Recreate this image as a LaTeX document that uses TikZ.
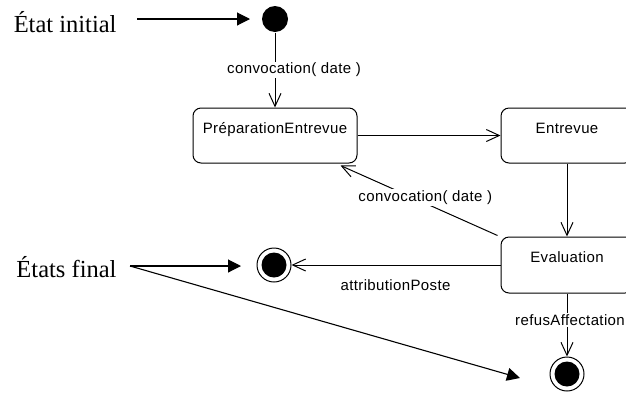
\documentclass[tikz,border=0pt]{standalone}
\usepackage{fontspec}
\setmainfont{Liberation Serif}
\newfontfamily\umlfont[LetterSpace=2.5]{Liberation Sans}
\usetikzlibrary{arrows.meta}

\begin{document}
\begin{tikzpicture}[x=1pt,y=-1pt,
  line width=1pt,
  statebox/.style={draw, rounded corners=8pt, minimum width=132pt, minimum height=55pt,
    inner xsep=0pt, inner ysep=8pt, text height=17pt, text depth=22pt,
    font=\umlfont\fontsize{15}{17}\selectfont},
  initstate/.style={circle, fill=black, minimum size=26pt, inner sep=0pt},
  finalstate/.style={circle, draw, minimum size=34pt, inner sep=0pt,
    path picture={\fill (path picture bounding box.center) circle (12.5pt);}},
  trans/.style={-{Straight Barb[length=13pt,width=12pt]}},
  lbl/.style={fill=white, inner sep=1.5pt, font=\umlfont\fontsize{15}{17}\selectfont},
  lblplain/.style={inner sep=1pt, font=\umlfont\fontsize{15}{17}\selectfont},
  note/.style={font=\fontsize{24.5}{28}\selectfont, inner sep=0pt},
  annot/.style={-{Triangle[length=13pt,width=13pt]}, line width=1.1pt}]

  \clip (0,0) rectangle (626,392);

  % states
  \node[initstate] (init) at (275,19) {};
  \node[statebox, minimum width=164pt] (prep) at (275,135.5) {PréparationEntrevue};
  \node[statebox] (entrevue) at (567,135.5) {Entrevue};
  \node[statebox, minimum height=56pt] (eval) at (567,265) {Evaluation};
  \node[finalstate] (final1) at (274,265) {};
  \node[finalstate] (final2) at (567,374) {};

  % transitions
  \draw[trans] (init) -- (prep.north -| init)
    node[lbl, pos=0.5, xshift=19pt] {convocation( date )};
  \draw[trans] (prep) -- (entrevue);
  \draw[trans] (entrevue) -- (eval);
  \draw[trans] ([xshift=-3pt,yshift=1pt]eval.north west) -- ([xshift=-17pt,yshift=-2pt]prep.south east)
    node[lbl, pos=0.46, yshift=6pt] {convocation( date )};
  \draw[trans] (eval.west) -- (final1);
  \node[lblplain] (lblattr) at (395.5,285) {attributionPoste};
  \draw[trans] (eval) -- (final2)
    node[lbl, pos=0.42, xshift=3pt] {refusAffectation};

  % annotations
  \node[note, anchor=base east] (etatinit) at (117,32) {État initial};
  \node[note, anchor=base east] (etatsfinal) at (117,277) {États final};
  \coordinate (tipinit) at (250,19);
  \coordinate (fork) at (130,266);
  \coordinate (tipfinal1) at (241,266);
  \coordinate (tipfinal2) at (520,378);
  \draw[annot] ([xshift=20pt]etatinit.east |- tipinit) -- (tipinit);
  \draw[annot] (fork) -- (tipfinal1);
  \draw[annot] (fork) -- (tipfinal2);
\end{tikzpicture}
\end{document}
